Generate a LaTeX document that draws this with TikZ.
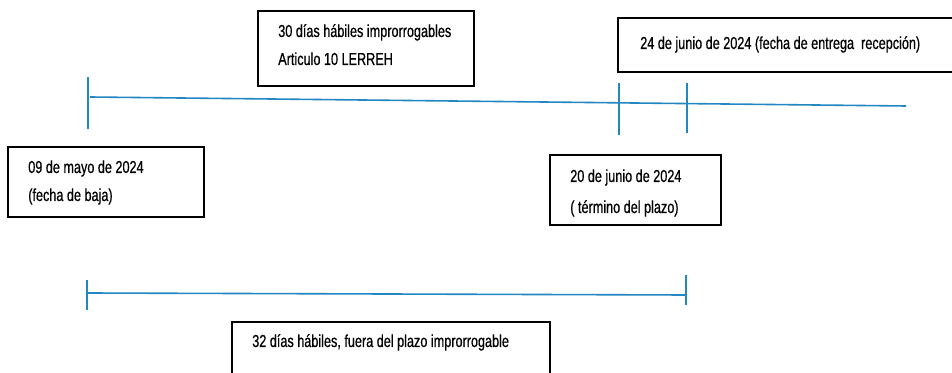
\documentclass[tikz,border=0pt]{standalone}
\usepackage{fontspec}
\setmainfont[FakeStretch=0.73,FakeBold=0.6]{Liberation Sans}
\usetikzlibrary{fit}
\definecolor{tlblue}{RGB}{35,135,195}
\begin{document}
\begin{tikzpicture}[x=0.75pt,y=-0.75pt,
  box/.style={draw=black,line width=1.7pt,inner sep=0pt,fill=white},
  txt/.style={anchor=base west,inner sep=0pt,font=\fontsize{13}{15}\selectfont},
  tl/.style={draw=tlblue,line width=1.2pt},
  tick/.style={draw=tlblue,line width=1.2pt}]
\clip (0,0) rectangle (952,373);
\useasboundingbox (0,0) rectangle (952,373);
\fill[white] (0,0) rectangle (952,373);

% top timeline
\coordinate (t0) at (90,97);
\coordinate (tend) at (906,106);
\draw[tl] (t0) -- (tend);
\coordinate (a1) at (88,77); \coordinate (a2) at (88,129);
\draw[tick] (a1) -- (a2);
\coordinate (b1) at (619,83); \coordinate (b2) at (619,135);
\draw[tick] (b1) -- (b2);
\coordinate (c1) at (687,83); \coordinate (c2) at (687,133);
\draw[tick] (c1) -- (c2);

% bottom timeline
\coordinate (u0) at (87,293);
\coordinate (uend) at (686,295);
\draw[tl] (u0) -- (uend);
\coordinate (d1) at (87,280); \coordinate (d2) at (87,310);
\draw[tick] (d1) -- (d2);
\coordinate (e1) at (686,275); \coordinate (e2) at (686,305);
\draw[tick] (e1) -- (e2);

% boxes
\node[box,fit={(258,11) (474,86)}] (boxA) {};
\node[txt] (A1) at (278,37) {30 días hábiles improrrogables};
\node[txt] (A2) at (278,65) {Articulo 10 LERREH};

\node[box,fit={(618,18) (960,72)}] (boxB) {};
\node[txt] (B1) at (640,49) {24 de junio de 2024 (fecha de entrega\ \ recepción)};

\node[box,fit={(8,147) (204,217)}] (boxC) {};
\node[txt] (C1) at (28,173) {09 de mayo de 2024};
\node[txt] (C2) at (28,201) {(fecha de baja)};

\node[box,fit={(550,155) (721,225)}] (boxD) {};
\node[txt] (D1) at (570,182) {20 de junio de 2024};
\node[txt] (D2) at (570,213) {( término del plazo)};

\node[box,fit={(232,322) (550,390)}] (boxE) {};
\node[txt] (E1) at (252,347) {32 días hábiles, fuera del plazo improrrogable};
\end{tikzpicture}
\end{document}
